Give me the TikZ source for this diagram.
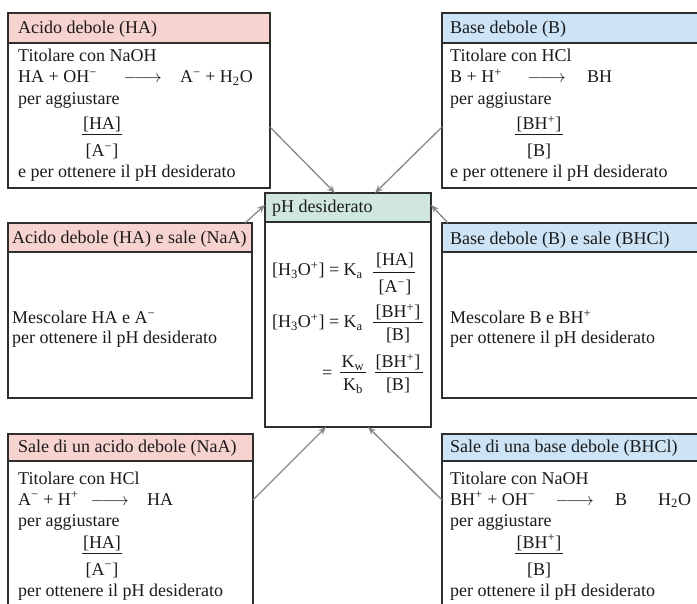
\documentclass[tikz,border=0pt]{standalone}
\usepackage{fontspec}
\setmainfont{Liberation Serif}
\usetikzlibrary{arrows.meta}
\definecolor{pinkc}{HTML}{F7D3D0}
\definecolor{bluec}{HTML}{CCE4F6}
\definecolor{greenc}{HTML}{CFE7E0}
\definecolor{linec}{HTML}{2E2E2E}
\definecolor{arrc}{HTML}{888888}
\definecolor{txtc}{HTML}{1A1A1A}
\newcommand\tfont{\fontsize{18}{21}\selectfont}
\newcommand\mn{\textsuperscript{−}}
\newcommand\pl{\textsuperscript{+}}
\newcommand\rarr{\makebox[39pt]{$\relbar\joinrel\relbar\joinrel\rightarrow$}}
\begin{document}
\begin{tikzpicture}[x=1pt,y=-1pt,
  box/.style={draw=linec, line width=1.3pt, fill=white, inner sep=0pt, outer sep=0pt},
  hdr/.style={box, anchor=north west},
  txt/.style={anchor=base west, inner sep=0pt, font=\tfont, text=txtc},
  ctx/.style={anchor=base, inner sep=0pt, font=\tfont, text=txtc},
  fline/.style={draw=txtc, line width=1pt},
  conn/.style={draw=arrc, line width=1.3pt, -{Stealth[length=8pt,width=6.5pt]}}]
\useasboundingbox (0,0) rectangle (697,604);
\clip (0,0) rectangle (697,604);

% ---------- top left
\node[box, minimum width=262pt, minimum height=175pt] (tl) at (139,100.5) {};
\node[hdr, fill=pinkc, minimum width=262pt, minimum height=30pt] (tlh) at (tl.north west) {};
\node[txt] (tl0) at (18,34) {Acido debole (HA)};
\node[txt] (tl1) at (18,62) {Titolare con NaOH};
\node[txt] (tl2) at (18,83) {HA + OH\mn};
\node[txt] (tl3) at (123,83) {\rarr};
\node[txt] (tl4) at (180,83) {A\mn{} + H\textsubscript{2}O};
\node[txt] (tl5) at (18,105) {per aggiustare};
\node[ctx] (tl6) at (102,130) {[HA]};
\node[ctx] (tl7) at (102,157) {[A\mn]};
\draw[fline] (82,135) -- (122,135);
\node[txt] (tl8) at (18,178) {e per ottenere il pH desiderato};

% ---------- top right
\node[box, minimum width=270pt, minimum height=175pt] (tr) at (577,100.5) {};
\node[hdr, fill=bluec, minimum width=270pt, minimum height=30pt] (trh) at (tr.north west) {};
\node[txt] (tr0) at (450,34) {Base debole (B)};
\node[txt] (tr1) at (450,62) {Titolare con HCl};
\node[txt] (tr2) at (450,83) {B + H\pl};
\node[txt] (tr3) at (527,83) {\rarr};
\node[txt] (tr4) at (587,83) {BH};
\node[txt] (tr5) at (450,105) {per aggiustare};
\node[ctx] (tr6) at (539,130) {[BH\pl]};
\node[ctx] (tr7) at (539,157) {[B]};
\draw[fline] (515,135) -- (563,135);
\node[txt] (tr8) at (450,178) {e per ottenere il pH desiderato};

% ---------- middle left
\node[box, minimum width=244pt, minimum height=175pt] (ml) at (130,310.5) {};
\node[hdr, fill=pinkc, minimum width=244pt, minimum height=29pt] (mlh) at (ml.north west) {};
\node[txt] (ml0) at (12,244) {Acido debole (HA) e sale (NaA)};
\node[txt] (ml1) at (12,324) {Mescolare HA e A\mn};
\node[txt] (ml2) at (12,344) {per ottenere il pH desiderato};

% ---------- middle right
\node[box, minimum width=270pt, minimum height=175pt] (mr) at (577,310.5) {};
\node[hdr, fill=bluec, minimum width=270pt, minimum height=29pt] (mrh) at (mr.north west) {};
\node[txt] (mr0) at (450,245) {Base debole (B) e sale (BHCl)};
\node[txt] (mr1) at (450,324) {Mescolare B e BH\pl};
\node[txt] (mr2) at (450,344) {per ottenere il pH desiderato};

% ---------- bottom left
\node[box, minimum width=245pt, minimum height=186pt] (bl) at (130.5,527) {};
\node[hdr, fill=pinkc, minimum width=245pt, minimum height=27pt] (blh) at (bl.north west) {};
\node[txt] (bl0) at (18,453) {Sale di un acido debole (NaA)};
\node[txt] (bl1) at (18,484) {Titolare con HCl};
\node[txt] (bl2) at (18,505) {A\mn{} + H\pl};
\node[txt] (bl3) at (90,505) {\rarr};
\node[txt] (bl4) at (147,505) {HA};
\node[txt] (bl5) at (18,526) {per aggiustare};
\node[ctx] (bl6) at (102,548) {[HA]};
\node[ctx] (bl7) at (102,575) {[A\mn]};
\draw[fline] (82,553) -- (122,553);
\node[txt] (bl8) at (18,596) {per ottenere il pH desiderato};

% ---------- bottom right
\node[box, minimum width=270pt, minimum height=186pt] (br) at (577,527) {};
\node[hdr, fill=bluec, minimum width=270pt, minimum height=27pt] (brh) at (br.north west) {};
\node[txt] (br0) at (450,453) {Sale di una base debole (BHCl)};
\node[txt] (br1) at (450,484) {Titolare con NaOH};
\node[txt] (br2) at (450,505) {BH\pl{} + OH\mn};
\node[txt] (br3) at (555,505) {\rarr};
\node[txt] (br4) at (615,505) {B};
\node[txt] (br5) at (658,505) {H\textsubscript{2}O};
\node[txt] (br6) at (450,526) {per aggiustare};
\node[ctx] (br7) at (539,548) {[BH\pl]};
\node[ctx] (br8) at (539,575) {[B]};
\draw[fline] (515,553) -- (563,553);
\node[txt] (br9) at (450,596) {per ottenere il pH desiderato};

% ---------- centre
\node[box, minimum width=166pt, minimum height=234pt] (c) at (348,310) {};
\node[hdr, fill=greenc, minimum width=166pt, minimum height=29pt] (ch) at (c.north west) {};
\node[txt] (c0) at (272,213) {pH desiderato};
\node[txt] (c1) at (272,276) {[H\textsubscript{3}O\pl] = K\textsubscript{a}};
\node[ctx] (c2) at (395,266) {[HA]};
\node[ctx] (c3) at (395,293) {[A\mn]};
\draw[fline] (373,273) -- (415,273);
\node[txt] (c4) at (272,328) {[H\textsubscript{3}O\pl] = K\textsubscript{a}};
\node[ctx] (c5) at (398,318) {[BH\pl]};
\node[ctx] (c6) at (398,341) {[B]};
\draw[fline] (373,323) -- (423,323);
\node[txt] (c7) at (322,379) {=};
\node[ctx] (c8) at (353,368) {K\textsubscript{w}};
\node[ctx] (c9) at (353,391) {K\textsubscript{b}};
\draw[fline] (340,373) -- (366,373);
\node[ctx] (c10) at (398,368) {[BH\pl]};
\node[ctx] (c11) at (398,391) {[B]};
\draw[fline] (375,373) -- (423,373);

% ---------- connectors
\draw[conn] ([yshift=-114pt]tl.north east) -- ([xshift=70pt]c.north west);
\draw[conn] ([yshift=-114pt]tr.north west) -- ([xshift=110pt]c.north west);
\draw[conn] ([xshift=-7pt]ml.north east) -- ([yshift=-12pt]c.north west);
\draw[conn] ([xshift=6pt]mr.north west) -- ([yshift=-12pt]c.north east);
\draw[conn] ([yshift=-66pt]bl.north east) -- ([xshift=61pt]c.south west);
\draw[conn] ([yshift=-66pt]br.north west) -- ([xshift=103pt]c.south west);
\end{tikzpicture}
\end{document}
